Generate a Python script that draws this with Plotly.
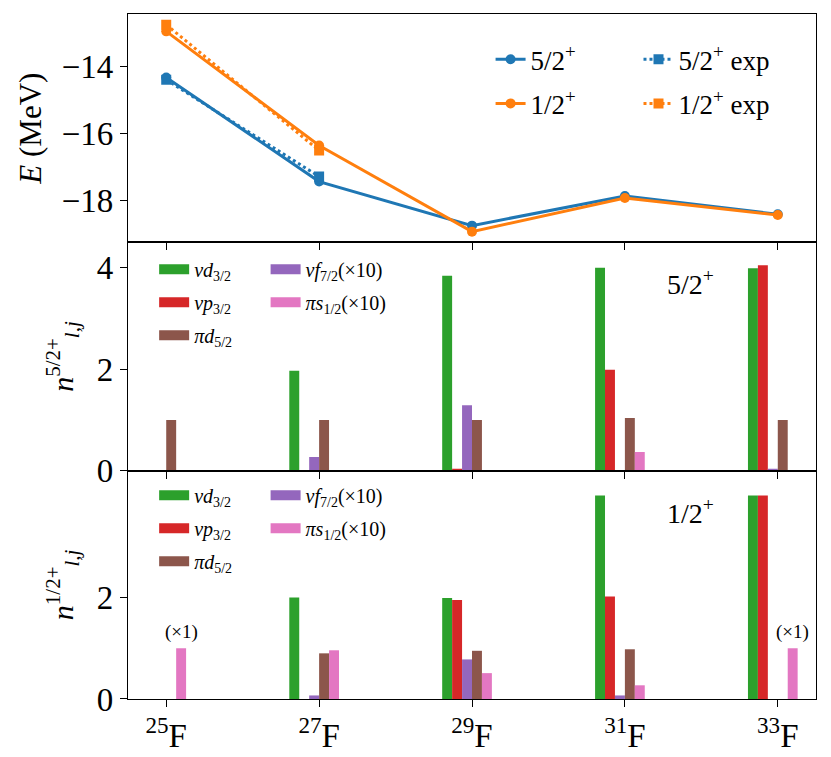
import plotly.graph_objects as go
from plotly.subplots import make_subplots

# isotopes (mass number A of F)
mass = [25, 27, 29, 31, 33]
tick_labels = ["<sup>25</sup>F", "<sup>27</sup>F", "<sup>29</sup>F", "<sup>31</sup>F", "<sup>33</sup>F"]

# energies (MeV)
e_52 = [-14.32, -17.44, -18.76, -17.87, -18.42]
e_12 = [-12.94, -16.36, -18.94, -17.93, -18.44]
mass_exp = [25, 27]
e_52_exp = [-14.39, -17.29]
e_12_exp = [-12.74, -16.51]

# occupancies, 5/2+ state (f7/2 and s1/2 scaled x10 as plotted)
occ52_nd32 = [0.0, 1.97, 3.84, 4.00, 3.99]
occ52_np32 = [0.0, 0.0, 0.04, 1.99, 4.05]
occ52_nf72 = [0.0, 0.27, 1.29, 0.0, 0.04]
occ52_pd52 = [1.00, 1.00, 1.00, 1.04, 1.00]
occ52_ps12 = [0.0, 0.0, 0.0, 0.37, 0.0]

# occupancies, 1/2+ state
occ12_nd32 = [0.0, 2.00, 1.99, 4.01, 4.01]
occ12_np32 = [0.0, 0.0, 1.95, 2.02, 4.01]
occ12_nf72 = [0.0, 0.07, 0.78, 0.07, 0.0]
occ12_pd52 = [0.0, 0.90, 0.95, 0.98, 0.0]
occ12_ps12 = [1.00, 0.96, 0.51, 0.27, 1.00]

BLUE = "#1f77b4"
ORANGE = "#ff7f0e"
FONT = "Liberation Serif, Times New Roman, DejaVu Serif, serif"

orb_names = ["<i>νd</i><sub>3/2</sub>", "<i>νp</i><sub>3/2</sub>", "<i>νf</i><sub>7/2</sub>(×10)",
             "<i>πd</i><sub>5/2</sub>", "<i>πs</i><sub>1/2</sub>(×10)"]
orb_colors = ["#2ca02c", "#d62728", "#9467bd", "#8c564b", "#e377c2"]
w = 0.13

fig = make_subplots(rows=3, cols=1, shared_xaxes=True, vertical_spacing=0)

# Energy panel
fig.add_trace(go.Scatter(x=mass, y=e_52, mode="lines+markers", name="5/2<sup>+</sup>",
                         line=dict(color=BLUE, width=3), marker=dict(size=10, symbol="circle"),
                         legend="legend", legendgroup="a"), row=1, col=1)
fig.add_trace(go.Scatter(x=mass, y=e_12, mode="lines+markers", name="1/2<sup>+</sup>",
                         line=dict(color=ORANGE, width=3), marker=dict(size=10, symbol="circle"),
                         legend="legend", legendgroup="b"), row=1, col=1)
fig.add_trace(go.Scatter(x=mass_exp, y=e_52_exp, mode="lines+markers", name="5/2<sup>+</sup> exp",
                         line=dict(color=BLUE, width=3, dash="dot"), marker=dict(size=10, symbol="square"),
                         legend="legend2", legendgroup="c"), row=1, col=1)
fig.add_trace(go.Scatter(x=mass_exp, y=e_12_exp, mode="lines+markers", name="1/2<sup>+</sup> exp",
                         line=dict(color=ORANGE, width=3, dash="dot"), marker=dict(size=10, symbol="square"),
                         legend="legend2", legendgroup="d"), row=1, col=1)

# Occupancy panels
panels = [
    (2, [occ52_nd32, occ52_np32, occ52_nf72, occ52_pd52, occ52_ps12], ("legend3", "legend4")),
    (3, [occ12_nd32, occ12_np32, occ12_nf72, occ12_pd52, occ12_ps12], ("legend5", "legend6")),
]
legend_col = [0, 0, 1, 0, 1]
for row, series, legs in panels:
    for i, vals in enumerate(series):
        fig.add_trace(go.Bar(x=mass, y=vals, width=w, offset=(i - 3) * w,
                             marker=dict(color=orb_colors[i], line=dict(width=0)),
                             showlegend=False, legendgroup=f"r{row}o{i}"), row=row, col=1)
    # legend handles as wide patches
    for i in [0, 1, 3, 2, 4]:
        fig.add_trace(go.Scatter(x=[None], y=[None], mode="lines", name=orb_names[i],
                                 line=dict(color=orb_colors[i], width=14),
                                 legend=legs[legend_col[i]], legendgroup=f"r{row}o{i}"),
                      row=row, col=1)

# page body adds an 8px offset, margins compensate for it
fig.update_layout(
    width=831, height=757,
    margin=dict(l=120, r=23, t=6, b=66, autoexpand=False),
    plot_bgcolor="white", paper_bgcolor="white",
    font=dict(family=FONT, size=30, color="black"),
    barmode="overlay",
)

leg_common = dict(bgcolor="rgba(0,0,0,0)", borderwidth=0, xanchor="left", yanchor="top",
                  itemclick=False)
fig.update_layout(
    legend=dict(x=0.527, y=0.969, font=dict(size=27), tracegroupgap=6, **leg_common),
    legend2=dict(x=0.742, y=0.969, font=dict(size=27), tracegroupgap=6, **leg_common),
    legend3=dict(x=0.038, y=0.656, font=dict(size=20), tracegroupgap=4, **leg_common),
    legend4=dict(x=0.2, y=0.656, font=dict(size=20), tracegroupgap=4, **leg_common),
    legend5=dict(x=0.038, y=0.326, font=dict(size=20), tracegroupgap=4, **leg_common),
    legend6=dict(x=0.2, y=0.326, font=dict(size=20), tracegroupgap=4, **leg_common),
)

axis_style = dict(showline=True, linecolor="black", linewidth=1.2, mirror=True,
                  ticks="outside", ticklen=7, tickwidth=1.2, tickcolor="black",
                  showgrid=False, zeroline=False, tickfont=dict(family=FONT, size=33),
                  automargin=False)
fig.update_xaxes(range=[24.5, 33.5], tickvals=mass, ticktext=tick_labels, **axis_style)
fig.update_xaxes(showticklabels=False, row=1, col=1)
fig.update_xaxes(showticklabels=False, row=2, col=1)
fig.update_yaxes(**axis_style)
fig.update_yaxes(range=[-19.26, -12.42], tickvals=[-18, -16, -14],
                 title=dict(text="<i>E</i> (MeV)", font=dict(size=31), standoff=10), row=1, col=1)
fig.update_yaxes(range=[0, 4.5], tickvals=[0, 2, 4],
                 title=dict(text="<i>n</i><sup>5/2+</sup><sub><i>l,j</i></sub>", font=dict(size=30), standoff=14),
                 row=2, col=1)
fig.update_yaxes(range=[0, 4.5], tickvals=[0, 2],
                 title=dict(text="<i>n</i><sup>1/2+</sup><sub><i>l,j</i></sub>", font=dict(size=30), standoff=14),
                 row=3, col=1)

fig.add_annotation(x=31.86, y=3.7, text="5/2<sup>+</sup>", showarrow=False, font=dict(size=28),
                   xref="x2", yref="y2")
fig.add_annotation(x=31.86, y=3.7, text="1/2<sup>+</sup>", showarrow=False, font=dict(size=28),
                   xref="x3", yref="y3")
for xa in [mass[0], mass[-1]]:
    fig.add_annotation(x=xa + 1.5 * w, y=1.0, text="(×1)", showarrow=False, font=dict(size=19),
                       xref="x3", yref="y3", yanchor="bottom", yshift=3)

fig.write_html("out.html")
